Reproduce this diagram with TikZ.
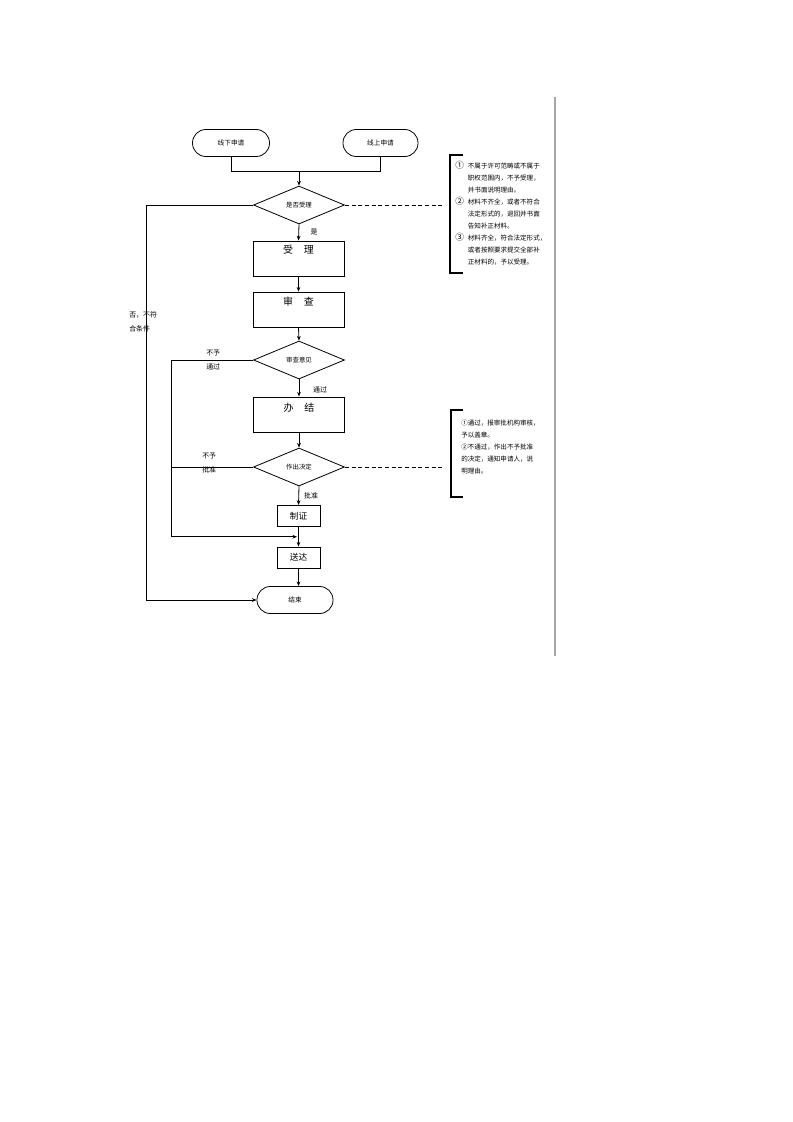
\documentclass[tikz,border=0pt]{standalone}
\usepackage{fontspec}
\setmainfont{Noto Sans CJK SC}
\usetikzlibrary{shapes.geometric,arrows.meta,calc}
\tikzset{
  flow/.style={draw=black,line width=0.6pt},
  arr/.style={flow,-{Stealth[length=3.5pt,width=2.8pt]}},
  term/.style={draw=black,line width=0.6pt,rounded corners=10pt,minimum width=#1,minimum height=20.25pt,inner sep=0pt,font=\fontsize{5}{6}\selectfont},
  box/.style={draw=black,line width=0.7pt,minimum width=68.25pt,minimum height=26.25pt,inner sep=0pt},
  sbox/.style={draw=black,line width=0.7pt,minimum width=32.25pt,minimum height=15.75pt,inner sep=0pt,font=\fontsize{6.5}{7}\selectfont},
  dia/.style={draw=black,line width=0.6pt,diamond,minimum width=68.25pt,minimum height=28.5pt,inner sep=0pt,font=\fontsize{4.8}{6}\selectfont},
  lbl/.style={font=\fontsize{5.2}{10}\selectfont,inner sep=0pt,align=left},
  note/.style={font=\fontsize{4.9}{9}\selectfont,inner sep=0pt,align=left},
  dsh/.style={draw=black,line width=0.6pt,dash pattern=on 3pt off 2pt},
  brk/.style={draw=black,line width=0.8pt}
}
\begin{document}
\begin{tikzpicture}[x=0.75pt,y=-0.75pt]
\useasboundingbox (0,0) rectangle (793,1122);
% nodes
\node[term=57.75pt] (xx) at (231,143) {线下申请};
\node[term=56.25pt] (xs) at (380.5,143) {线上申请};
\node[dia] (d1) at (299,205) {是否受理};
\node[box] (sl) at (298.5,258.5) {};
\node[font=\fontsize{7.5}{8}\selectfont,inner sep=0pt] (slt) at (298.5,250) {受\hspace{8pt}理};
\node[box] (sc) at (298.5,309.5) {};
\node[font=\fontsize{7.5}{8}\selectfont,inner sep=0pt] (sct) at (298.5,302) {审\hspace{8pt}查};
\node[dia] (d2) at (299,360) {审查意见};
\node[box] (bj) at (299,414.5) {};
\node[font=\fontsize{7.5}{8}\selectfont,inner sep=0pt] (bjt) at (299,408) {办\hspace{8pt}结};
\node[dia] (d3) at (299,467) {作出决定};
\node[sbox] (zz) at (298.5,516) {制证};
\node[sbox] (sd) at (298.5,557.5) {送达};
\node[term=57pt] (end) at (295,600) {结束};
% labels
\node[lbl] (ls) at (314,232) {是};
\node[lbl,anchor=west] (lno) at (129,322) {否，不符\\合条件};
\node[lbl,anchor=west] (lb1) at (206,360) {不予\\通过};
\node[lbl] (lt1) at (320,390) {通过};
\node[lbl,anchor=west] (lb2) at (202,463) {不予\\批准};
\node[lbl] (lp) at (311,496) {批准};
% connectors
\coordinate (j) at ($(xx.south)!0.5!(xs.south)+(0,14)$);
\draw[flow] (xx.south) -- ++(0,14) -| (xs.south);
\draw[arr] (d1.north |- j) -- (d1.north);
\draw[arr] (d1.south) -- (sl.north);
\draw[arr] (sl.south) -- (sc.north);
\draw[arr] (sc.south) -- (d2.north);
\draw[arr] (d2.south) -- (bj.north);
\draw[arr] (bj.south) -- (d3.north);
\draw[arr] (d3.south) -- (zz.north);
\draw[arr] (zz.south) -- (sd.north);
\draw[arr] (sd.south) -- (sd.south |- end.north);
\coordinate (m) at ($(zz.south)!0.5!(sd.north)$);
\draw[arr] (d1.west) -- ++(-107,0) |- (end.west);
\draw[arr] (d2.west) -- ++(-82,0) |- ($(m)+(-1.5,0)$);
\draw[flow] (d3.west) -- ++(-82,0);
% dashed leaders
\draw[dsh] (d1.east) -- ++(99,0) coordinate (n1);
\draw[dsh] (d3.east) -- ++(99,0) coordinate (n2);
% brackets
\draw[brk] (463,155) -- (450,155) -- (450,273) -- (463,273);
\draw[brk] (463,410) -- (451,410) -- (451,497) -- (463,497);
% notes
\node[note,anchor=north west] (note1) at (455,160) {%
\begin{tabular}{@{}l@{\hspace{3pt}}l@{}}
{\fontsize{6.5}{9}\selectfont ①} & 不属于许可范畴或不属于\\
 & 职权范围内，不予受理，\\
 & 并书面说明理由。\\
{\fontsize{6.5}{9}\selectfont ②} & 材料不齐全，或者不符合\\
 & 法定形式的，退回并书面\\
 & 告知补正材料。\\
{\fontsize{6.5}{9}\selectfont ③} & 材料齐全，符合法定形式，\\
 & 或者按照要求提交全部补\\
 & 正材料的，予以受理。
\end{tabular}};
\node[note,anchor=north west] (note2) at (461,420) {①通过，报审批机构审核，\\予以盖章。\\②不通过，作出不予批准\\的决定，通知申请人，说\\明理由。};
% gray rule
\draw[draw=gray!70,line width=1.1pt] (555,97) -- (555,656);
\end{tikzpicture}
\end{document}
